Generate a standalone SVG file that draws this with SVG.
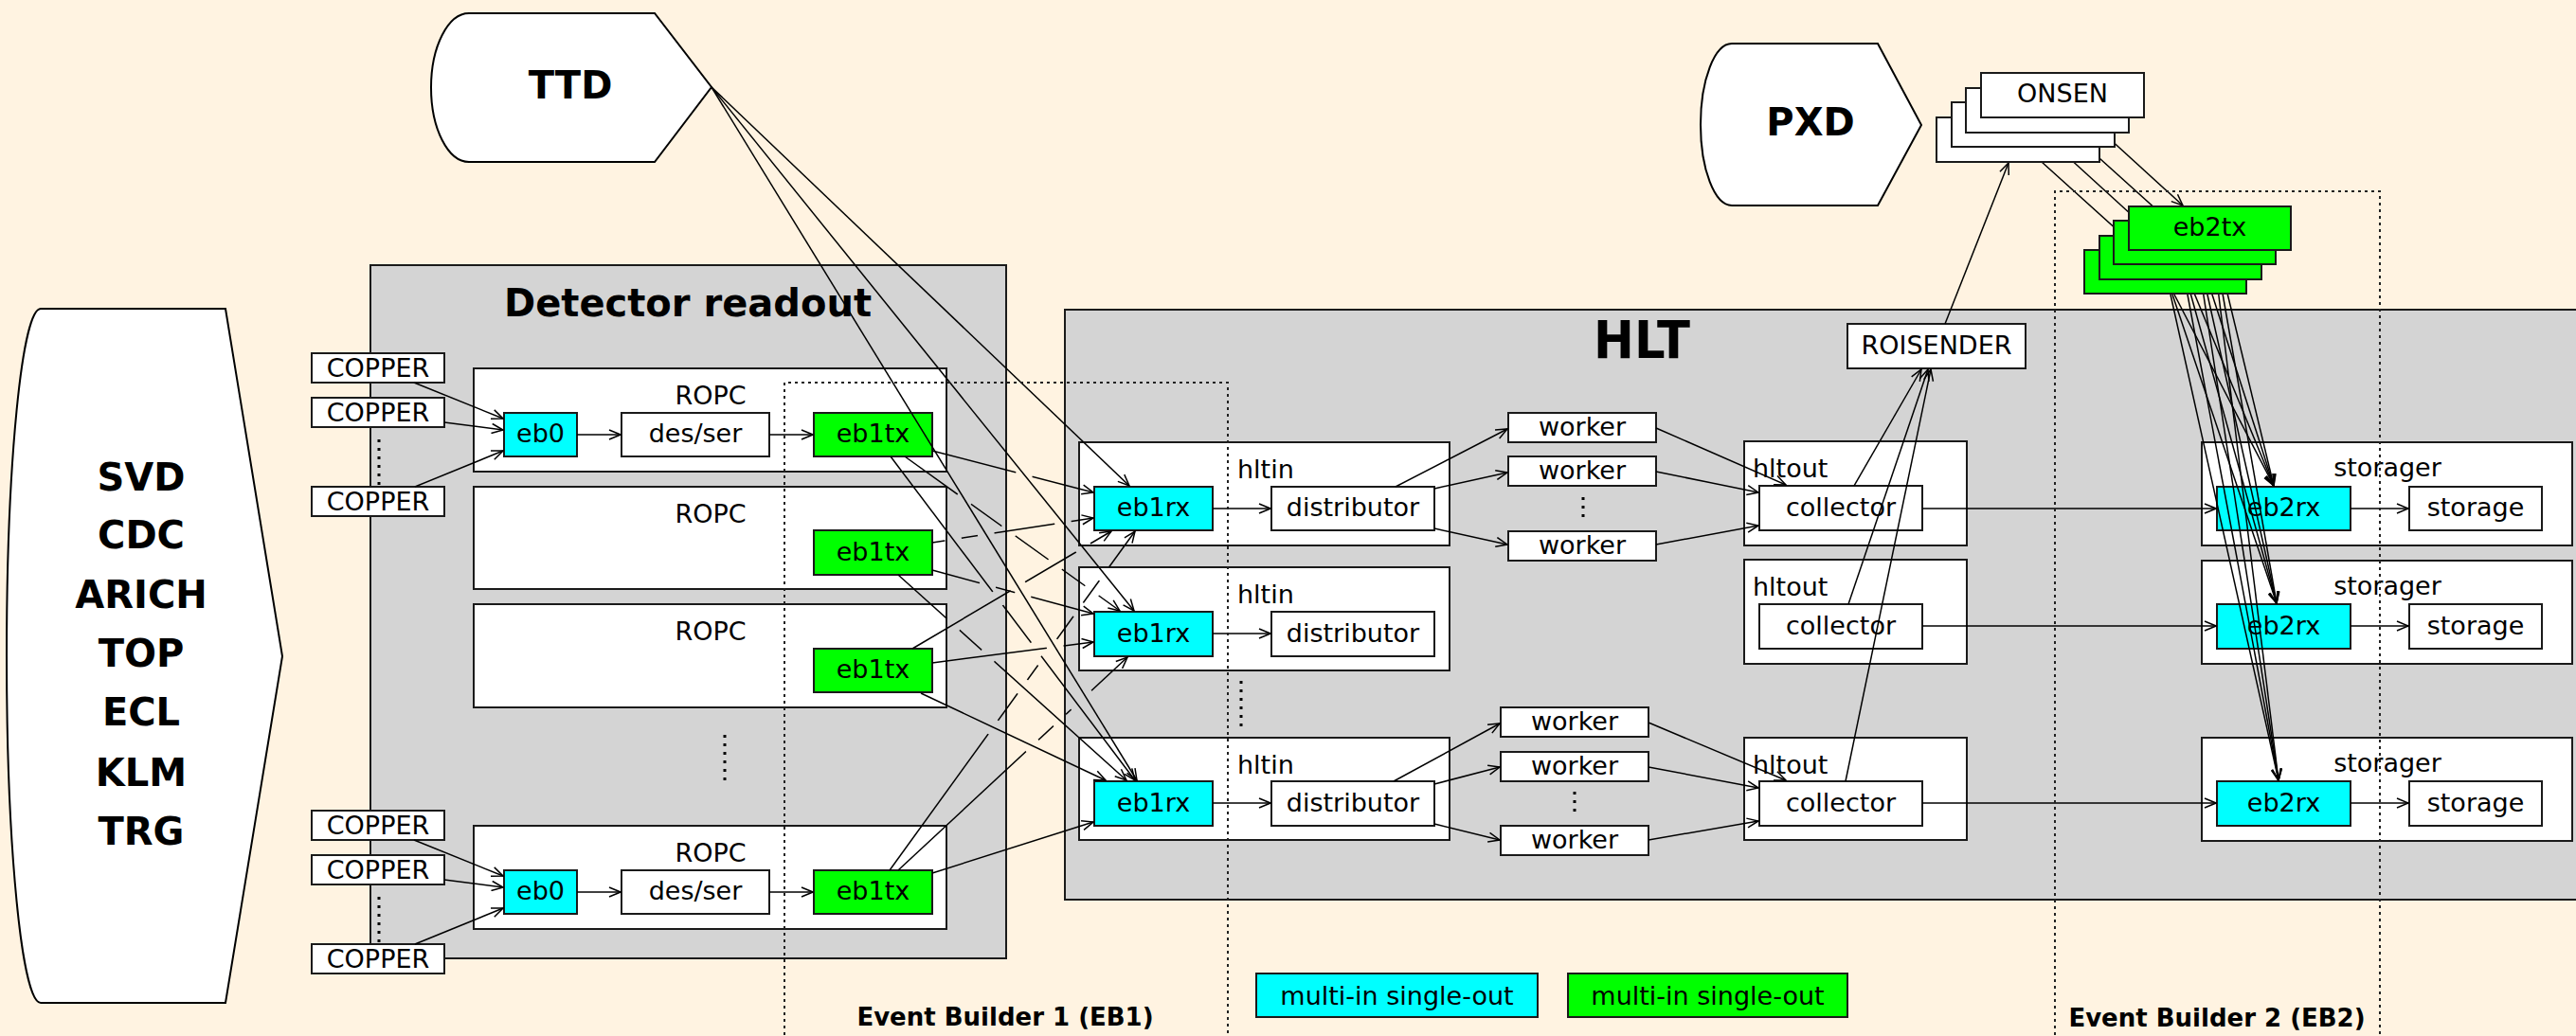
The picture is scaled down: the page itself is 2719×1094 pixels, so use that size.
<svg xmlns="http://www.w3.org/2000/svg" width="2719" height="1094" viewBox="0 0 2719 1094">
<defs>
<marker id="arr" viewBox="0 0 14 12" refX="13" refY="6" markerWidth="14" markerHeight="12" orient="auto" markerUnits="userSpaceOnUse">
<path d="M1,1 L13,6 L1,11" fill="none" stroke="#000" stroke-width="1.5"/>
</marker>
<!-- line jumps: gaps where a connector passes over an earlier one -->
<mask id="gD" maskUnits="userSpaceOnUse" x="0" y="0" width="2719" height="1094"><rect width="2719" height="1094" fill="#fff"/><circle cx="1081" cy="501" r="9"/></mask>
<mask id="gE" maskUnits="userSpaceOnUse" x="0" y="0" width="2719" height="1094"><rect width="2719" height="1094" fill="#fff"/><circle cx="1018" cy="527" r="9"/><circle cx="1064.6" cy="560.7" r="9"/><circle cx="1113.7" cy="596" r="9"/><circle cx="1152.5" cy="623.8" r="9"/></mask>
<mask id="gF" maskUnits="userSpaceOnUse" x="0" y="0" width="2719" height="1094"><rect width="2719" height="1094" fill="#fff"/><circle cx="1053" cy="632" r="9"/><circle cx="1093.7" cy="685.7" r="9"/></mask>
<mask id="gG" maskUnits="userSpaceOnUse" x="0" y="0" width="2719" height="1094"><rect width="2719" height="1094" fill="#fff"/><circle cx="1006.2" cy="569.7" r="9"/><circle cx="1040.8" cy="564.4" r="9"/><circle cx="1122" cy="551.9" r="9"/></mask>
<mask id="gH" maskUnits="userSpaceOnUse" x="0" y="0" width="2719" height="1094"><rect width="2719" height="1094" fill="#fff"/><circle cx="1042.5" cy="617.8" r="9"/><circle cx="1079.7" cy="627.9" r="9"/></mask>
<mask id="gI" maskUnits="userSpaceOnUse" x="0" y="0" width="2719" height="1094"><rect width="2719" height="1094" fill="#fff"/><circle cx="1006.2" cy="659.4" r="9"/><circle cx="1042.8" cy="692.4" r="9"/></mask>
<mask id="gJ" maskUnits="userSpaceOnUse" x="0" y="0" width="2719" height="1094"><rect width="2719" height="1094" fill="#fff"/><circle cx="1074.4" cy="619.2" r="9"/><circle cx="1143.4" cy="578.5" r="9"/></mask>
<mask id="gK" maskUnits="userSpaceOnUse" x="0" y="0" width="2719" height="1094"><rect width="2719" height="1094" fill="#fff"/><circle cx="1113.7" cy="683.2" r="9"/></mask>
<mask id="gM" maskUnits="userSpaceOnUse" x="0" y="0" width="2719" height="1094"><rect width="2719" height="1094" fill="#fff"/><circle cx="1048.3" cy="768" r="9"/><circle cx="1079.2" cy="725.1" r="9"/><circle cx="1100.9" cy="695.3" r="9"/><circle cx="1110.5" cy="682" r="9"/><circle cx="1138.2" cy="643.7" r="9"/><circle cx="1165.5" cy="605.9" r="9"/></mask>
<mask id="gN" maskUnits="userSpaceOnUse" x="0" y="0" width="2719" height="1094"><rect width="2719" height="1094" fill="#fff"/><circle cx="1089.5" cy="787.4" r="9"/><circle cx="1118.5" cy="760.5" r="9"/><circle cx="1137" cy="743" r="9"/><circle cx="1145.6" cy="735.3" r="9"/></mask>
</defs>
<style>
.bg{fill:#fff3e1}
.cont{fill:#d4d4d4;stroke:#1a1a1a;stroke-width:2}
.box{fill:#fff;stroke:#1a1a1a;stroke-width:2}
.cy{fill:#00ffff;stroke:#1a1a1a;stroke-width:2}
.gr{fill:#00ff00;stroke:#1a1a1a;stroke-width:2}
.src{fill:#fff;stroke:#000;stroke-width:2}
text{font-family:"DejaVu Sans","Liberation Sans",sans-serif;fill:#000}
.t{font-size:27px;text-anchor:middle}
.tl{font-size:27px}
.big{font-size:40px;font-weight:bold;text-anchor:middle}
.eb{font-size:26px;font-weight:bold;text-anchor:middle}
.c{fill:none;stroke:#000;stroke-width:1.5;marker-end:url(#arr)}
.dots{stroke:#000;stroke-width:3;stroke-dasharray:3 6}
.region{fill:none;stroke:#222;stroke-width:2;stroke-dasharray:3 4}
</style>
<rect class="bg" x="0" y="0" width="2719" height="1094"/>

<!-- data sources -->
<g id="detectors">
<path class="src" d="M43,326 L238,326 L298,693 L238,1059 L43,1059 A36,366.5 0 0 1 43,326 Z"/>
<text class="big" x="149" y="518">SVD</text>
<text class="big" x="149" y="579">CDC</text>
<text class="big" x="149" y="642">ARICH</text>
<text class="big" x="149" y="704">TOP</text>
<text class="big" x="149" y="766">ECL</text>
<text class="big" x="149" y="830">KLM</text>
<text class="big" x="149" y="892">TRG</text>
</g>
<g id="ttd">
<path class="src" d="M495,14 L691,14 L751,92 L691,171 L495,171 A40,78.5 0 0 1 495,14 Z"/>
<text class="big" x="602" y="104">TTD</text>
</g>
<g id="pxd">
<path class="src" d="M1828,46 L1982,46 L2028,132 L1982,217 L1828,217 A33,85.5 0 0 1 1828,46 Z"/>
<text class="big" x="1911" y="143">PXD</text>
</g>

<!-- containers -->
<g id="detector-readout">
<rect class="cont" x="391" y="280" width="671" height="732"/>
<text class="big" x="726" y="334">Detector readout</text>
</g>
<g id="hlt">
<rect class="cont" x="1124" y="327" width="1610" height="623"/>
<text class="big" x="1733" y="378" style="font-size:55px" textLength="102" lengthAdjust="spacingAndGlyphs">HLT</text>
</g>

<!-- front-end -->
<g id="copper-1"><rect class="box" x="329" y="373" width="140" height="31"/><text class="t" x="399" y="398">COPPER</text></g>
<g id="copper-2"><rect class="box" x="329" y="420" width="140" height="31"/><text class="t" x="399" y="445">COPPER</text></g>
<g id="copper-3"><rect class="box" x="329" y="514" width="140" height="31"/><text class="t" x="399" y="539">COPPER</text></g>
<g id="copper-4"><rect class="box" x="329" y="856" width="140" height="31"/><text class="t" x="399" y="881">COPPER</text></g>
<g id="copper-5"><rect class="box" x="329" y="903" width="140" height="31"/><text class="t" x="399" y="928">COPPER</text></g>
<g id="copper-6"><rect class="box" x="329" y="997" width="140" height="31"/><text class="t" x="399" y="1022">COPPER</text></g>
<line class="dots" x1="400" y1="464" x2="400" y2="512"/>
<line class="dots" x1="400" y1="947" x2="400" y2="995"/>

<g id="ropc-1">
<rect class="box" x="500" y="389" width="499" height="109"/><text class="t" x="750" y="427">ROPC</text>
<rect class="cy" x="532" y="436" width="77" height="46"/><text class="t" x="570.5" y="467">eb0</text>
<rect class="box" x="656" y="436" width="156" height="46"/><text class="t" x="734" y="467">des/ser</text>
<rect class="gr" x="859" y="436" width="125" height="46"/><text class="t" x="921.5" y="467">eb1tx</text>
</g>
<g id="ropc-2">
<rect class="box" x="500" y="514" width="499" height="108"/><text class="t" x="750" y="552">ROPC</text>
<rect class="gr" x="859" y="560" width="125" height="47"/><text class="t" x="921.5" y="592">eb1tx</text>
</g>
<g id="ropc-3">
<rect class="box" x="500" y="638" width="499" height="109"/><text class="t" x="750" y="676">ROPC</text>
<rect class="gr" x="859" y="685" width="125" height="46"/><text class="t" x="921.5" y="716">eb1tx</text>
</g>
<line class="dots" x1="765" y1="776" x2="765" y2="824"/>
<g id="ropc-4">
<rect class="box" x="500" y="872" width="499" height="109"/><text class="t" x="750" y="910">ROPC</text>
<rect class="cy" x="532" y="919" width="77" height="46"/><text class="t" x="570.5" y="950">eb0</text>
<rect class="box" x="656" y="919" width="156" height="46"/><text class="t" x="734" y="950">des/ser</text>
<rect class="gr" x="859" y="919" width="125" height="46"/><text class="t" x="921.5" y="950">eb1tx</text>
</g>

<!-- HLT units -->
<g id="hltin-1">
<rect class="box" x="1139" y="467" width="391" height="109"/><text class="tl" x="1306" y="505">hltin</text>
<rect class="cy" x="1155" y="514" width="125" height="46"/><text class="t" x="1217.5" y="545">eb1rx</text>
<rect class="box" x="1342" y="514" width="172" height="46"/><text class="t" x="1428" y="545">distributor</text>
</g>
<g id="hltin-2">
<rect class="box" x="1139" y="599" width="391" height="109"/><text class="tl" x="1306" y="637">hltin</text>
<rect class="cy" x="1155" y="646" width="125" height="47"/><text class="t" x="1217.5" y="678">eb1rx</text>
<rect class="box" x="1342" y="646" width="172" height="47"/><text class="t" x="1428" y="678">distributor</text>
</g>
<line class="dots" x1="1310" y1="719" x2="1310" y2="767"/>
<g id="hltin-3">
<rect class="box" x="1139" y="779" width="391" height="108"/><text class="tl" x="1306" y="817">hltin</text>
<rect class="cy" x="1155" y="825" width="125" height="47"/><text class="t" x="1217.5" y="857">eb1rx</text>
<rect class="box" x="1342" y="825" width="172" height="47"/><text class="t" x="1428" y="857">distributor</text>
</g>

<g id="worker-1a"><rect class="box" x="1592" y="436" width="156" height="31"/><text class="t" x="1670" y="460">worker</text></g>
<g id="worker-1b"><rect class="box" x="1592" y="482" width="156" height="31"/><text class="t" x="1670" y="506">worker</text></g>
<g id="worker-1c"><rect class="box" x="1592" y="561" width="156" height="31"/><text class="t" x="1670" y="585">worker</text></g>
<line class="dots" x1="1671" y1="525" x2="1671" y2="548"/>
<g id="worker-3a"><rect class="box" x="1584" y="747" width="156" height="31"/><text class="t" x="1662" y="771">worker</text></g>
<g id="worker-3b"><rect class="box" x="1584" y="794" width="156" height="31"/><text class="t" x="1662" y="818">worker</text></g>
<g id="worker-3c"><rect class="box" x="1584" y="872" width="156" height="31"/><text class="t" x="1662" y="896">worker</text></g>
<line class="dots" x1="1662" y1="836" x2="1662" y2="859"/>

<g id="hltout-1">
<rect class="box" x="1841" y="466" width="235" height="110"/><text class="tl" x="1850" y="504">hltout</text>
<rect class="box" x="1857" y="513" width="172" height="47"/><text class="t" x="1943" y="545">collector</text>
</g>
<g id="hltout-2">
<rect class="box" x="1841" y="591" width="235" height="110"/><text class="tl" x="1850" y="629">hltout</text>
<rect class="box" x="1857" y="638" width="172" height="47"/><text class="t" x="1943" y="670">collector</text>
</g>
<g id="hltout-3">
<rect class="box" x="1841" y="779" width="235" height="108"/><text class="tl" x="1850" y="817">hltout</text>
<rect class="box" x="1857" y="825" width="172" height="47"/><text class="t" x="1943" y="857">collector</text>
</g>
<g id="roisender"><rect class="box" x="1950" y="342" width="188" height="47"/><text class="t" x="2044" y="374">ROISENDER</text></g>

<g id="storager-1">
<rect class="box" x="2324" y="467" width="391" height="109"/><text class="t" x="2520" y="503">storager</text>
<rect class="cy" x="2340" y="514" width="141" height="46"/><text class="t" x="2410.5" y="545">eb2rx</text>
<rect class="box" x="2543" y="514" width="140" height="46"/><text class="t" x="2613" y="545">storage</text>
</g>
<g id="storager-2">
<rect class="box" x="2324" y="592" width="391" height="109"/><text class="t" x="2520" y="628">storager</text>
<rect class="cy" x="2340" y="638" width="141" height="47"/><text class="t" x="2410.5" y="670">eb2rx</text>
<rect class="box" x="2543" y="638" width="140" height="47"/><text class="t" x="2613" y="670">storage</text>
</g>
<g id="storager-3">
<rect class="box" x="2324" y="779" width="391" height="109"/><text class="t" x="2520" y="815">storager</text>
<rect class="cy" x="2340" y="825" width="141" height="47"/><text class="t" x="2410.5" y="857">eb2rx</text>
<rect class="box" x="2543" y="825" width="140" height="47"/><text class="t" x="2613" y="857">storage</text>
</g>

<!-- connectors -->
<g id="connectors">
<!-- COPPER to eb0 -->
<line class="c" x1="437" y1="404" x2="531" y2="442"/>
<line class="c" x1="469" y1="446" x2="531" y2="454"/>
<line class="c" x1="438" y1="514" x2="531" y2="476"/>
<line class="c" x1="437" y1="887" x2="531" y2="925"/>
<line class="c" x1="469" y1="929" x2="531" y2="937"/>
<line class="c" x1="438" y1="997" x2="531" y2="959"/>
<line class="c" x1="609" y1="459" x2="655" y2="459"/>
<line class="c" x1="812" y1="459" x2="858" y2="459"/>
<line class="c" x1="609" y1="942" x2="655" y2="942"/>
<line class="c" x1="812" y1="942" x2="858" y2="942"/>
<!-- TTD to eb1rx -->
<line class="c" x1="751" y1="92" x2="1192" y2="513"/>
<line class="c" x1="751" y1="92" x2="1197" y2="645"/>
<line class="c" x1="751" y1="92" x2="1200" y2="824"/>
<!-- eb1tx to eb1rx -->
<line class="c" x1="984" y1="476" x2="1154" y2="520" mask="url(#gD)"/>
<line class="c" x1="955" y1="482" x2="1182" y2="645" mask="url(#gE)"/>
<line class="c" x1="940" y1="482" x2="1198" y2="824" mask="url(#gF)"/>
<line class="c" x1="984" y1="573" x2="1154" y2="547" mask="url(#gG)"/>
<line class="c" x1="984" y1="602" x2="1154" y2="648" mask="url(#gH)"/>
<line class="c" x1="948" y1="607" x2="1189" y2="824" mask="url(#gI)"/>
<line class="c" x1="963" y1="685" x2="1173" y2="561" mask="url(#gJ)"/>
<line class="c" x1="984" y1="700" x2="1154" y2="678" mask="url(#gK)"/>
<line class="c" x1="972" y1="732" x2="1167" y2="824"/>
<line class="c" x1="939" y1="919" x2="1198" y2="561" mask="url(#gM)"/>
<line class="c" x1="948" y1="919" x2="1190" y2="694" mask="url(#gN)"/>
<line class="c" x1="984" y1="922" x2="1154" y2="868"/>
<!-- eb1rx to distributor -->
<line class="c" x1="1280" y1="537" x2="1341" y2="537"/>
<line class="c" x1="1280" y1="669" x2="1341" y2="669"/>
<line class="c" x1="1280" y1="848" x2="1341" y2="848"/>
<!-- distributor to workers -->
<line class="c" x1="1473" y1="514" x2="1591" y2="453"/>
<line class="c" x1="1514" y1="516" x2="1591" y2="499"/>
<line class="c" x1="1514" y1="558" x2="1591" y2="575"/>
<line class="c" x1="1471" y1="825" x2="1583" y2="764"/>
<line class="c" x1="1514" y1="828" x2="1583" y2="810"/>
<line class="c" x1="1514" y1="870" x2="1583" y2="887"/>
<!-- workers to collector -->
<line class="c" x1="1748" y1="452" x2="1885" y2="512"/>
<line class="c" x1="1748" y1="498" x2="1856" y2="520"/>
<line class="c" x1="1748" y1="575" x2="1856" y2="555"/>
<line class="c" x1="1740" y1="763" x2="1885" y2="824"/>
<line class="c" x1="1740" y1="810" x2="1856" y2="832"/>
<line class="c" x1="1740" y1="887" x2="1856" y2="867"/>
<!-- collector to ROISENDER / eb2rx -->
<line class="c" x1="1957" y1="513" x2="2028" y2="390"/>
<line class="c" x1="1951" y1="638" x2="2035" y2="390"/>
<line class="c" x1="1948" y1="825" x2="2038" y2="390"/>
<line class="c" x1="2029" y1="537" x2="2339" y2="537"/>
<line class="c" x1="2029" y1="661" x2="2339" y2="661"/>
<line class="c" x1="2029" y1="848" x2="2339" y2="848"/>
<!-- eb2rx to storage -->
<line class="c" x1="2481" y1="537" x2="2542" y2="537"/>
<line class="c" x1="2481" y1="661" x2="2542" y2="661"/>
<line class="c" x1="2481" y1="848" x2="2542" y2="848"/>
<!-- ROISENDER to ONSEN -->
<line class="c" x1="2053" y1="342" x2="2120" y2="172"/>
<!-- ONSEN to eb2tx -->
<line class="c" x1="2202" y1="124" x2="2304" y2="217"/>
<line class="c" x1="2186" y1="140" x2="2288" y2="232"/>
<line class="c" x1="2171" y1="155" x2="2273" y2="248"/>
<line class="c" x1="2155" y1="171" x2="2257" y2="263"/>
<!-- eb2tx to eb2rx -->
<line class="c" x1="2340" y1="264" x2="2400" y2="513"/>
<line class="c" x1="2338" y1="264" x2="2403" y2="637"/>
<line class="c" x1="2336" y1="264" x2="2405" y2="824"/>
<line class="c" x1="2325" y1="280" x2="2400" y2="513"/>
<line class="c" x1="2323" y1="280" x2="2403" y2="637"/>
<line class="c" x1="2321" y1="280" x2="2405" y2="824"/>
<line class="c" x1="2310" y1="295" x2="2400" y2="513"/>
<line class="c" x1="2308" y1="295" x2="2403" y2="637"/>
<line class="c" x1="2306" y1="295" x2="2405" y2="824"/>
<line class="c" x1="2295" y1="311" x2="2400" y2="513"/>
<line class="c" x1="2293" y1="311" x2="2403" y2="637"/>
<line class="c" x1="2291" y1="311" x2="2405" y2="824"/>
</g>

<!-- stacked senders -->
<g id="onsen">
<rect class="box" x="2044" y="124" width="172" height="47"/>
<rect class="box" x="2060" y="108" width="172" height="47"/>
<rect class="box" x="2075" y="93" width="172" height="47"/>
<rect class="box" x="2091" y="77" width="172" height="47"/>
<text class="t" x="2177" y="108">ONSEN</text>
</g>
<g id="eb2tx">
<rect class="gr" x="2200" y="264" width="171" height="46"/>
<rect class="gr" x="2216" y="249" width="171" height="46"/>
<rect class="gr" x="2231" y="233" width="171" height="46"/>
<rect class="gr" x="2247" y="218" width="171" height="46"/>
<text class="t" x="2332.5" y="249">eb2tx</text>
</g>

<!-- event builder regions -->
<g id="eb1-region">
<path class="region" d="M828,1100 V404 H1296 V1100"/>
<text class="eb" x="1061" y="1083">Event Builder 1 (EB1)</text>
</g>
<g id="eb2-region">
<path class="region" d="M2169,1100 V202 H2512 V1100"/>
<text class="eb" x="2340" y="1084">Event Builder 2 (EB2)</text>
</g>

<!-- legend -->
<g id="legend-rx"><rect class="cy" x="1326" y="1028" width="297" height="46"/><text class="t" x="1474.5" y="1061">multi-in single-out</text></g>
<g id="legend-tx"><rect class="gr" x="1655" y="1028" width="295" height="46"/><text class="t" x="1802.5" y="1061">multi-in single-out</text></g>
</svg>
